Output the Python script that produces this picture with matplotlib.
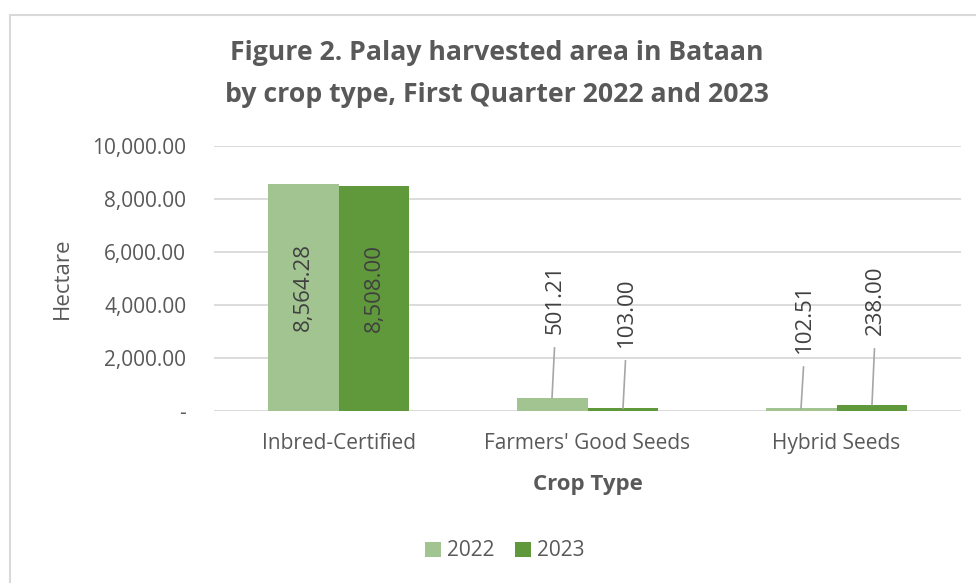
import matplotlib.pyplot as plt
import numpy as np

categories = ["Inbred-Certified", "Farmers' Good Seeds", "Hybrid Seeds"]
years = ["2022", "2023"]
area_2022 = [8564.28, 501.21, 102.51]
area_2023 = [8508.00, 103.00, 238.00]
yticks = [0, 2000, 4000, 6000, 8000, 10000]
ytick_labels = ["-", "2,000.00", "4,000.00", "6,000.00", "8,000.00", "10,000.00"]

c2022 = '#A2C490'
c2023 = '#5F993B'
grey = '#595959'

plt.rcParams['font.family'] = ['Open Sans', 'DejaVu Sans']

fig = plt.figure(figsize=(9.76, 5.83), dpi=100)
# chart border
fig.add_artist(plt.Rectangle((10/976, -0.1), 1.2, 1.1 - 15/583, transform=fig.transFigure,
                             fill=False, edgecolor='#D9D9D9', linewidth=1.5))

ax = fig.add_axes([214/976, 1 - 411/583, 747/976, 265/583])
x = np.arange(len(categories))
w = 0.285
b1 = ax.bar(x - w/2, area_2022, w, color=c2022, label=years[0], zorder=3)
b2 = ax.bar(x + w/2, area_2023, w, color=c2023, label=years[1], zorder=3)

ax.set_xlim(-0.5, 2.5)
ax.set_ylim(0, 10000)
ax.set_yticks(yticks)
ax.set_yticklabels(ytick_labels)
ax.set_xticks(x)
ax.set_xticklabels(categories)
ax.tick_params(length=0, labelsize=15, colors=grey)
ax.tick_params(axis='y', pad=20)
ax.tick_params(axis='x', pad=16)
ax.grid(axis='y', color='#D9D9D9', linewidth=1.3, zorder=0)
for s in ax.spines.values():
    s.set_visible(False)

ax.set_ylabel("Hectare", fontsize=16, color=grey, labelpad=14)
ax.set_xlabel("Crop Type", fontsize=16, color=grey, fontweight='bold', labelpad=14)

# data labels
for bars, vals in [(b1, area_2022), (b2, area_2023)]:
    for bar, v in zip(bars, vals):
        cx = bar.get_x() + bar.get_width()/2
        if v > 5000:
            ax.text(cx, v/2 + 400, f"{v:,.2f}", rotation=90, ha='center', va='center',
                    fontsize=16, color='#404040', zorder=4)

# leader line tops for the small bars (data units)
leader_top = {(0, 1): 2380, (1, 1): 1890, (0, 2): 1660, (1, 2): 2340}
for (s, i), top in leader_top.items():
    v = [area_2022, area_2023][s][i]
    cx = x[i] + (w/2 if s else -w/2)
    ax.plot([cx, cx + 0.01], [v, top], color='#A6A6A6', linewidth=1.2, zorder=4)
    ax.annotate(f"{v:,.2f}", (cx + 0.012, top), xytext=(0, 10), textcoords='offset points',
                rotation=90, ha='center', va='bottom', fontsize=16, color='#404040')

fig.text(497/976, 1 - 74/583, "Figure 2. Palay harvested area in Bataan\nby crop type, First Quarter 2022 and 2023",
         ha='center', va='center', fontsize=19.2, fontweight='bold', color=grey, linespacing=1.8)

fig.legend(loc='center', bbox_to_anchor=(505/976, 1 - 551/583), ncol=2, frameon=False,
           fontsize=15, handlelength=0.75, handleheight=0.75, handletextpad=0.3,
           columnspacing=1.0, labelcolor=grey)

fig.savefig("out.png", dpi=100)
